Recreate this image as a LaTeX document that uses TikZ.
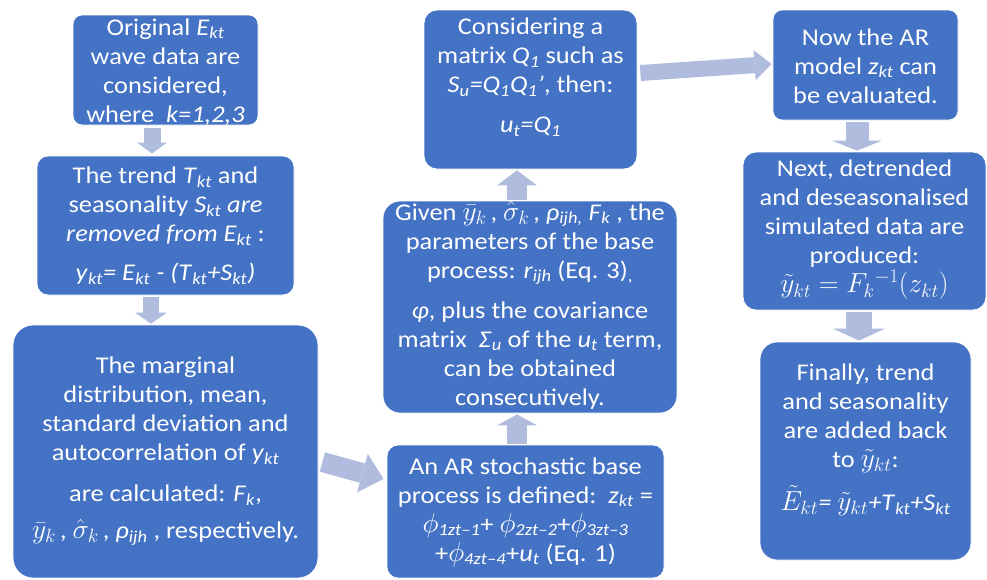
\RequirePackage{fix-cm}
\documentclass[tikz,border=0pt]{standalone}
\usepackage{fontspec}
\setmainfont[FakeStretch=1.1]{Carlito}
\usetikzlibrary{arrows.meta}
\definecolor{boxc}{HTML}{4472C4}
\definecolor{arrc}{HTML}{B0BCDE}
\newcommand\iv[2]{\textit{#1}\textsubscript{\textit{#2}}}
\newcommand\mth[1]{{\fontsize{27.5}{29}\selectfont$#1$}}
\tikzset{
  box/.style={fill=boxc, draw=white, line width=0.8pt, inner sep=0pt, rounded corners=#1},
  box/.default=12pt,
  txt/.style={text=white, align=center, font=\fontsize{24}{29}\selectfont, inner sep=0pt},
  blk/.style args={#1/#2/#3}{draw=arrc, line width=#1, line cap=butt,
    -{Triangle[width=#2,length=#3,line width=0pt]}}
}
\begin{document}
\begin{tikzpicture}[x=1pt,y=-1pt]
\useasboundingbox (0,0) rectangle (987,579);
% boxes
\node[box=9pt,  minimum width=185pt, minimum height=110pt] (b1) at (165.5,70) {};
\node[box=11pt, minimum width=257pt, minimum height=139pt] (b2) at (165.5,225.5) {};
\node[box=20pt, minimum width=305pt, minimum height=253pt] (b3) at (165.5,451.5) {};
\node[box=11pt, minimum width=277pt, minimum height=133pt] (b4) at (525.5,511.5) {};
\node[box=17pt, minimum width=294pt, minimum height=212pt] (b5) at (530,307) {};
\node[box=13pt, minimum width=213pt, minimum height=159pt] (b6) at (530.5,89.5) {};
\node[box=9pt,  minimum width=185pt, minimum height=110pt] (b7) at (865.5,65) {};
\node[box=13pt, minimum width=243pt, minimum height=158pt] (b8) at (864.5,231) {};
\node[box=17pt, minimum width=211pt, minimum height=218pt] (b9) at (865.5,451) {};
% texts
\node[txt] (t1) at (165.5,72) {Original \iv{E}{kt}\\ wave data are\\ considered,\\ where\ \ \textit{k=1,2,3}};
\node[txt] (t2) at (165.5,226) {The trend \iv{T}{kt} and\\ seasonality \iv{S}{kt} \textit{are}\\ \textit{removed from} \iv{E}{kt} :\\[10pt] \iv{y}{kt}\textit{= }\iv{E}{kt}\textit{ - (}\iv{T}{kt}\textit{+}\iv{S}{kt}\textit{)}};
\node[txt] (t3) at (165.5,451) {The marginal\\ distribution, mean,\\ standard deviation and\\ autocorrelation of \iv{y}{kt}\\[12pt] are calculated: \iv{F}{k},\\[8pt] \mth{\bar{y}_k}\,, \mth{\hat{\sigma}_k}\,, \iv{ρ}{ijh} , respectively.};
\node[txt] (t4) at (525.5,512) {An AR stochastic base\\ process is defined:\ \ \iv{z}{kt} =\\ \mth{\phi}\textsubscript{\textit{1zt–1}}+ \mth{\phi}\textsubscript{\textit{2zt–2}}+\mth{\phi}\textsubscript{\textit{3zt–3}}\\ +\mth{\phi}\textsubscript{\textit{4zt–4}}+\iv{u}{t} (Eq. 1)};
\node[txt] (t5) at (530,305) {Given \mth{\bar{y}_k}\,, \mth{\hat{\sigma}_k}\,, \iv{ρ}{ijh,} \iv{F}{k} , the\\ parameters of the base\\ process: \iv{r}{ijh} (Eq. 3)\textsubscript{,}\\[11pt] \textit{φ}, plus the covariance\\ matrix\ \ \iv{Σ}{u} of the \iv{u}{t} term,\\ can be obtained\\ consecutively.};
\node[txt] (t6) at (530.5,77) {Considering a\\ matrix \iv{Q}{1} such as\\ \iv{S}{u}\textit{=}\iv{Q}{1}\iv{Q}{1}\textit{’}, then:\\[11pt] \iv{u}{t}\textit{=}\iv{Q}{1}};
\node[txt] (t7) at (865.5,66) {Now the AR\\ model \iv{z}{kt} can\\ be evaluated.};
\node[txt] (t8) at (864.5,230) {Next, detrended\\ and deseasonalised\\ simulated data are\\ produced:\\ \mth{\tilde{y}_{kt} = F_k{}^{-1}(z_{kt})}};
\node[txt] (t9) at (865.5,440) {Finally, trend\\ and seasonality\\ are added back\\ to \mth{\tilde{y}_{kt}}:\\[12pt] \mth{\tilde{E}_{kt}}\textit{= }\mth{\tilde{y}_{kt}}\textit{+}\iv{T}{kt}\textit{+}\iv{S}{kt}};
% block arrows
\draw[blk=17pt/30pt/11pt] ([xshift=-13.5pt,yshift=-3pt]b1.south) -- ([xshift=-13.5pt,yshift=2pt]b2.north);
\draw[blk=16pt/32pt/11pt] ([xshift=-14.5pt,yshift=-2pt]b2.south) -- ([xshift=-14.5pt,yshift=1pt]b3.north);
\draw[blk=20pt/40pt/22pt] ([shift={(4pt,-10.5pt)}]b3.east) -- ([shift={(-3pt,32.5pt)}]b4.west);
\draw[blk=20pt/40pt/11pt] ([xshift=-8.5pt,yshift=1pt]b4.north) -- ([xshift=-13pt,yshift=-1pt]b5.south);
\draw[blk=20pt/40pt/15pt] ([xshift=-13pt,yshift=1pt]b5.north) -- ([xshift=-13.5pt,yshift=-1pt]b6.south);
\draw[blk=16pt/30pt/17pt] ([shift={(3pt,16.5pt)}]b6.east) -- ([shift={(-1pt,1pt)}]b7.west);
\draw[blk=23pt/50pt/10pt] ([xshift=-8.5pt,yshift=-2pt]b7.south) -- ([xshift=-7.5pt,yshift=1pt]b8.north);
\draw[blk=26pt/52pt/12pt] ([xshift=-5.5pt,yshift=-2pt]b8.south) -- ([xshift=-6.5pt,yshift=1pt]b9.north);
\end{tikzpicture}
\end{document}
